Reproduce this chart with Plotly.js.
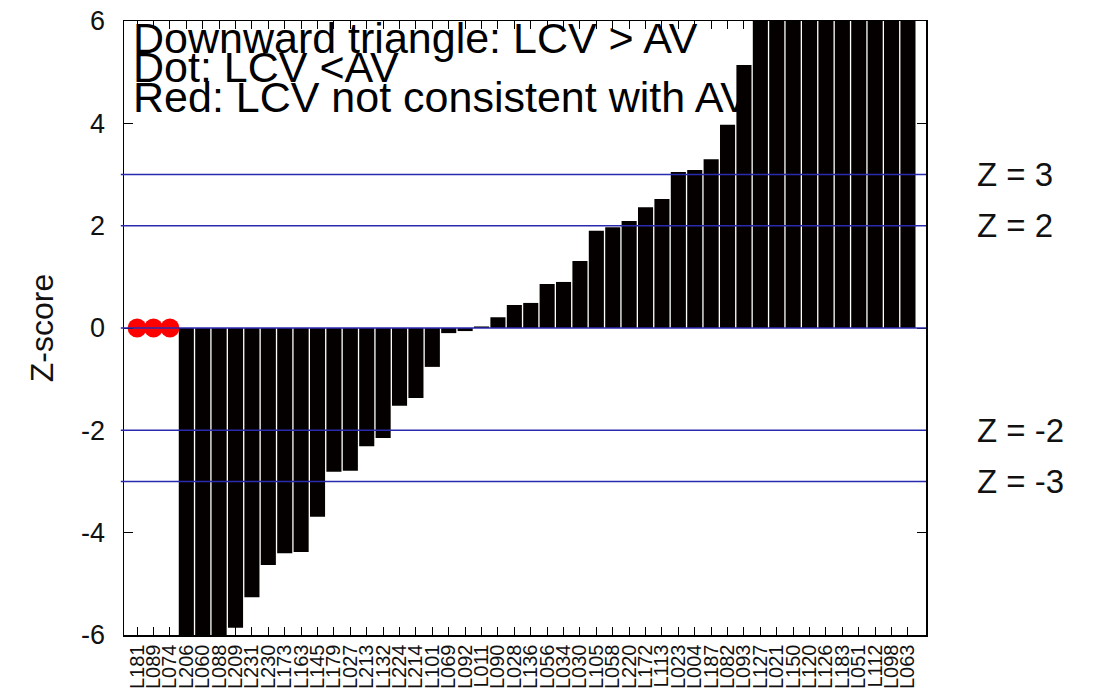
<!DOCTYPE html>
<html>
<head>
<meta charset="utf-8">
<script src="https://cdn.plot.ly/plotly-3.0.1.min.js"></script>
<style>
html,body{margin:0;padding:0;background:#fff;}
#chart{width:1098px;height:693px;}
</style>
</head>
<body>
<div id="chart"></div>
<script>
// Lab codes (x categories), in plotted order
const labCodes = ["L181","L089","L074","L206","L060","L088","L209","L231","L230","L173",
  "L163","L145","L179","L027","L213","L132","L224","L214","L101","L069",
  "L092","L011","L090","L028","L136","L056","L034","L030","L105","L058",
  "L220","L172","L113","L023","L004","L187","L082","L093","L127","L021",
  "L150","L120","L126","L183","L051","L112","L098","L063"];
// Z-scores (null = no bar drawn)
const zScores = [null,null,null,-9.5,-8.0,-6.6,-5.86,-5.26,-4.63,-4.40,
  -4.38,-3.69,-2.81,-2.79,-2.31,-2.15,-1.52,-1.37,-0.76,-0.10,
  -0.06,0.03,0.21,0.45,0.49,0.86,0.90,1.31,1.90,1.97,
  2.09,2.36,2.52,3.05,3.09,3.30,3.97,5.14,6.4,6.9,
  7.5,8.2,9.0,10.1,11.3,12.6,14.8,17.5];
// Labs shown as red dots ("LCV not consistent with AV")
const dotLabs = ["L181","L089","L074"];
const dotValues = [0,0,0];
// Y axis ticks
const yTickVals = [-6,-4,-2,0,2,4,6];
const yTickText = ["-6","-4","-2","0","2","4","6"];
// Reference Z levels
const zLevels = [3,2,-2,-3];
const zLevelLabels = ["Z = 3","Z = 2","Z = -2","Z = -3"];
const legendLines = ["Downward triangle: LCV > AV","Dot: LCV <AV","Red: LCV not consistent with AV"];

const FONT = "Liberation Sans, Arial, sans-serif";

const traces = [
  {type:"bar", x:labCodes, y:zScores, marker:{color:"#050000", line:{width:0}},
   hoverinfo:"x+y", showlegend:false},
  {type:"scatter", mode:"markers", x:dotLabs, y:dotValues,
   marker:{color:"#ff0000", size:19, symbol:"circle"}, cliponaxis:false, showlegend:false}
];

const shapes = [];
zLevels.concat([0]).forEach(v => {
  shapes.push({type:"line", xref:"paper", yref:"y", x0:-0.004, x1:1, y0:v, y1:v,
    line:{color:"#2a2ab0", width:1.5}, layer:"above"});
});
const legendCenters = [0.9788, 0.9308, 0.8827];
legendLines.forEach((t,i) => {
  shapes.push({type:"rect", xref:"paper", yref:"paper", x0:0.0075, x1:0.95,
    y0:legendCenters[i]-0.01, y1:legendCenters[i]+0.01, line:{width:0},
    fillcolor:"rgba(0,0,0,0)", layer:"below",
    label:{text:t, textposition:"middle left", padding:0,
      font:{family:FONT, size:43, color:"#000"}}});
});

const annotations = zLevels.map((v,i) => ({
  xref:"paper", yref:"y", x:1.061, y:v, xanchor:"left", yanchor:"middle",
  text:zLevelLabels[i], showarrow:false, font:{family:FONT, size:33, color:"#111"}
}));

const layout = {
  width:1098, height:693,
  margin:{l:124, r:172, t:21, b:58, pad:0},
  paper_bgcolor:"#fff", plot_bgcolor:"#fff",
  bargap:0.08,
  showlegend:false,
  font:{family:FONT, color:"#111"},
  xaxis:{type:"category", range:[-0.8, 48.1], tickangle:-90,
    tickmode:"array", tickvals:labCodes, ticktext:labCodes,
    ticks:"inside", ticklen:8, tickwidth:1, tickcolor:"#000",
    showline:true, linecolor:"#000", linewidth:1.5, mirror:"ticks",
    showgrid:false, zeroline:false,
    tickfont:{family:FONT, size:20, color:"#111"}},
  yaxis:{range:[-6,6], tickmode:"array", tickvals:yTickVals, ticktext:yTickText,
    ticks:"inside", ticklen:9, tickwidth:1, tickcolor:"#000",
    showline:true, linecolor:"#000", linewidth:1.5, mirror:"ticks",
    showgrid:false, zeroline:false, ticklabelstandoff:12,
    tickfont:{family:FONT, size:27, color:"#111"},
    title:{text:"Z-score", font:{family:FONT, size:32, color:"#111"}, standoff:18}},
  shapes:shapes,
  annotations:annotations
};

Plotly.newPlot("chart", traces, layout, {staticPlot:true, displayModeBar:false});
</script>
</body>
</html>
